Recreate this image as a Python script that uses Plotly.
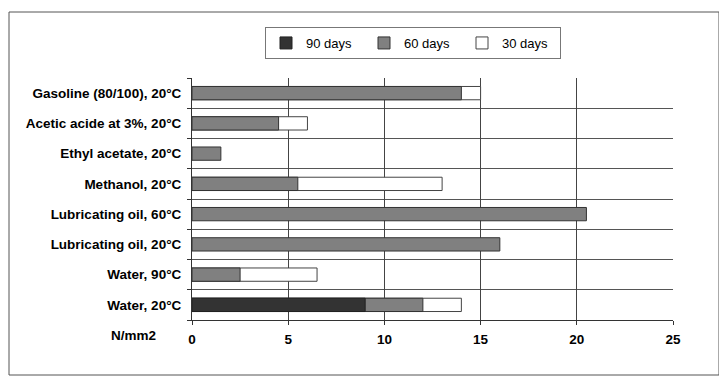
import plotly.graph_objects as go

categories = ["Water, 20°C", "Water, 90°C", "Lubricating oil, 20°C", "Lubricating oil, 60°C",
              "Methanol, 20°C", "Ethyl acetate, 20°C", "Acetic acide at 3%, 20°C", "Gasoline (80/100), 20°C"]
days90 = [9, None, None, None, None, None, None, None]
days60 = [12, 2.5, 16, 20.5, 5.5, 1.5, 4.5, 14]
days30 = [14, 6.5, None, None, 13, None, 6, 15]
x_ticks = [0, 5, 10, 15, 20, 25]

OFF = 8  # page body margin offset
W, H = 727 - OFF, 388 - OFF
L, R, T, B = 192 - OFF, 673 - OFF, 78 - OFF, 320 - OFF
ypos = list(range(len(categories)))

fig = go.Figure()
for name, vals, col, lc in [("30 days", days30, "white", "#444"),
                            ("60 days", days60, "#808080", "#333"),
                            ("90 days", days90, "#333333", "#222")]:
    fig.add_trace(go.Bar(y=ypos, x=vals, orientation="h", name=name, width=0.44,
                         marker=dict(color=col, line=dict(color=lc, width=1))))

def px_x(p):
    return (p - OFF - L) / (R - L)

def px_y(p):
    return (B - (p - OFF)) / (B - T)

fig.update_layout(
    width=W, height=H,
    margin=dict(l=L, r=W - R, t=T, b=H - B, autoexpand=False),
    barmode="overlay",
    plot_bgcolor="white", paper_bgcolor="white",
    font=dict(family="Liberation Sans, Arial, sans-serif", color="black"),
    showlegend=True,
    legend=dict(orientation="h", traceorder="reversed", x=px_x(413), xanchor="center",
                y=px_y(27), yanchor="top", bordercolor="#777", borderwidth=1,
                bgcolor="white", font=dict(size=13), entrywidth=53, itemwidth=30),
    xaxis=dict(range=[0, 25], tickvals=x_ticks, ticktext=[f"<b>{v}</b>" for v in x_ticks],
               showgrid=True, gridcolor="#444", gridwidth=1,
               showline=True, linecolor="#333", linewidth=1, ticks="outside", ticklen=4,
               tickcolor="#333", tickfont=dict(size=13.5), ticklabelstandoff=3,
               zeroline=False, fixedrange=True),
    yaxis=dict(range=[-0.5, len(categories) - 0.5], tickvals=ypos,
               ticktext=[f"<b>{c}</b>" for c in categories],
               showgrid=False, showline=True, linecolor="#333", linewidth=1, ticks="",
               tickfont=dict(size=13.5), zeroline=False, ticklabelstandoff=7,
               minor=dict(tickvals=[i - 0.5 for i in range(len(categories) + 1)], showgrid=True,
                          gridcolor="#555", gridwidth=1, ticks="outside", ticklen=4, tickcolor="#333")),
)

fig.add_shape(type="rect", xref="paper", yref="paper",
              x0=px_x(9), x1=px_x(719), y0=px_y(375), y1=px_y(12),
              line=dict(color="#555", width=1), fillcolor="rgba(0,0,0,0)", layer="below")
fig.add_annotation(text="<b>N/mm2</b>", xref="paper", yref="paper", x=px_x(133), y=px_y(335),
                   showarrow=False, font=dict(size=13.5), xanchor="center", yanchor="middle")

fig.write_html("out.html")
